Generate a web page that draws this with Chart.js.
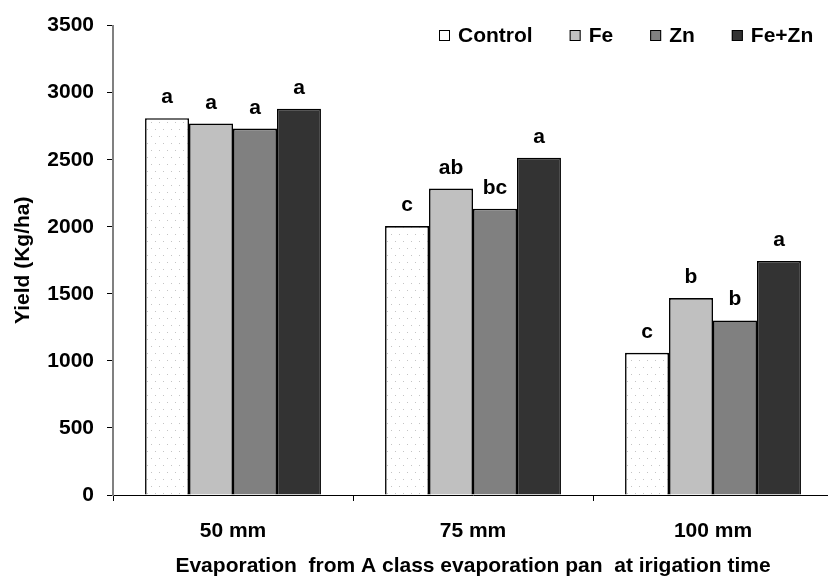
<!DOCTYPE html>
<html>
<head>
<meta charset="utf-8">
<script src="https://cdn.jsdelivr.net/npm/chart.js@4/dist/chart.umd.min.js"></script>
<style>
    html, body { margin: 0; padding: 0; overflow: hidden; background: #fff; }
    canvas { display: block; }
</style>
</head>
<body>
<canvas id="myChart" width="833" height="579"></canvas>
<script>
const categories = ['50 mm', '75 mm', '100 mm'];
const seriesNames = ['Control', 'Fe', 'Zn', 'Fe+Zn'];

// Yield (Kg/ha)
const controlYield = [2810, 2005, 1060];
const feYield = [2770, 2285, 1468];
const znYield = [2732, 2135, 1302];
const feZnYield = [2880, 2515, 1745];

// significance letters above each bar
const controlLetters = ['a', 'c', 'c'];
const feLetters = ['a', 'ab', 'b'];
const znLetters = ['a', 'bc', 'b'];
const feZnLetters = ['a', 'a', 'a'];

const yMin = 0;
const yMax = 3500;
const yStep = 500;

const FONT = '"Liberation Sans", Arial, sans-serif';
const FS = 21;

// dotted fill for the Control bars
function dotPattern() {
    const c = document.createElement('canvas');
    c.width = 16;
    c.height = 14;
    const g = c.getContext('2d');
    g.fillStyle = '#fff';
    g.fillRect(0, 0, 16, 14);
    g.fillStyle = '#c4c4c4';
    g.fillRect(3, 3, 1, 1);
    g.fillRect(11, 3, 1, 1);
    g.fillRect(7, 10, 1, 1);
    g.fillRect(15, 10, 1, 1);
    return g.createPattern(c, 'repeat');
}

const colors = [dotPattern(), '#c0c0c0', '#808080', '#333333'];
const legendColors = ['#ffffff', '#c0c0c0', '#808080', '#333333'];
const values = [controlYield, feYield, znYield, feZnYield];
const letters = [controlLetters, feLetters, znLetters, feZnLetters];

const letterPlugin = {
    id: 'letters',
    afterDatasetsDraw(chart) {
        const ctx = chart.ctx;
        ctx.save();
        ctx.font = 'bold ' + FS + 'px ' + FONT;
        ctx.fillStyle = '#000';
        ctx.textAlign = 'center';
        ctx.textBaseline = 'alphabetic';
        chart.data.datasets.forEach((ds, i) => {
            chart.getDatasetMeta(i).data.forEach((bar, j) => {
                ctx.fillText(letters[i][j], bar.x, bar.y - 15);
            });
        });
        ctx.restore();
    }
};

const legendPlugin = {
    id: 'boxLegend',
    afterDraw(chart) {
        const ctx = chart.ctx;
        ctx.save();
        ctx.font = 'bold ' + FS + 'px ' + FONT;
        ctx.textBaseline = 'middle';
        let x = 439;
        const y = 36;
        seriesNames.forEach((name, i) => {
            ctx.fillStyle = legendColors[i];
            ctx.fillRect(x, y - 6, 11, 11);
            ctx.strokeStyle = '#000';
            ctx.lineWidth = 1;
            ctx.strokeRect(x + 0.5, y - 5.5, 10, 10);
            ctx.fillStyle = '#000';
            ctx.fillText(name, x + 19, y);
            x += 19 + ctx.measureText(name).width + 37;
        });
        ctx.restore();
    }
};

const ctx = document.getElementById('myChart');

new Chart(ctx, {
    type: 'bar',
    data: {
        labels: categories,
        datasets: seriesNames.map((name, i) => ({
            label: name,
            data: values[i],
            backgroundColor: colors[i],
            borderColor: '#000',
            borderWidth: 1.6,
            borderSkipped: 'bottom',
            categoryPercentage: 0.733,
            barPercentage: 1.0
        }))
    },
    options: {
        responsive: false,
        animation: false,
        layout: { padding: { top: 14, right: 0, bottom: 0, left: 0 } },
        plugins: {
            legend: { display: false },
            tooltip: { enabled: false }
        },
        scales: {
            x: {
                grid: { drawOnChartArea: false, tickLength: 6, color: '#000', offset: true },
                border: { color: '#000', width: 1 },
                ticks: { color: '#000', padding: 18, font: { family: FONT, size: FS, weight: 'bold' } },
                title: {
                    display: true,
                    text: 'Evaporation  from A class evaporation pan  at irigation time',
                    color: '#000',
                    padding: { top: 0, bottom: 0 },
                    font: { family: FONT, size: FS, weight: 'bold' }
                },
                afterFit(scale) { scale.height = 84; }
            },
            y: {
                min: yMin,
                max: yMax,
                grid: { drawOnChartArea: false, tickLength: 6, color: '#000' },
                border: { color: '#808080', width: 2 },
                ticks: {
                    stepSize: yStep,
                    color: '#000',
                    padding: 13,
                    font: { family: FONT, size: FS, weight: 'bold' },
                    callback: v => String(v)
                },
                title: {
                    display: true,
                    text: 'Yield (Kg/ha)',
                    color: '#000',
                    padding: { top: 11, bottom: 0 },
                    font: { family: FONT, size: FS, weight: 'bold' }
                },
                afterFit(scale) { scale.width = 113; }
            }
        }
    },
    plugins: [letterPlugin, legendPlugin]
});
</script>
</body>
</html>
